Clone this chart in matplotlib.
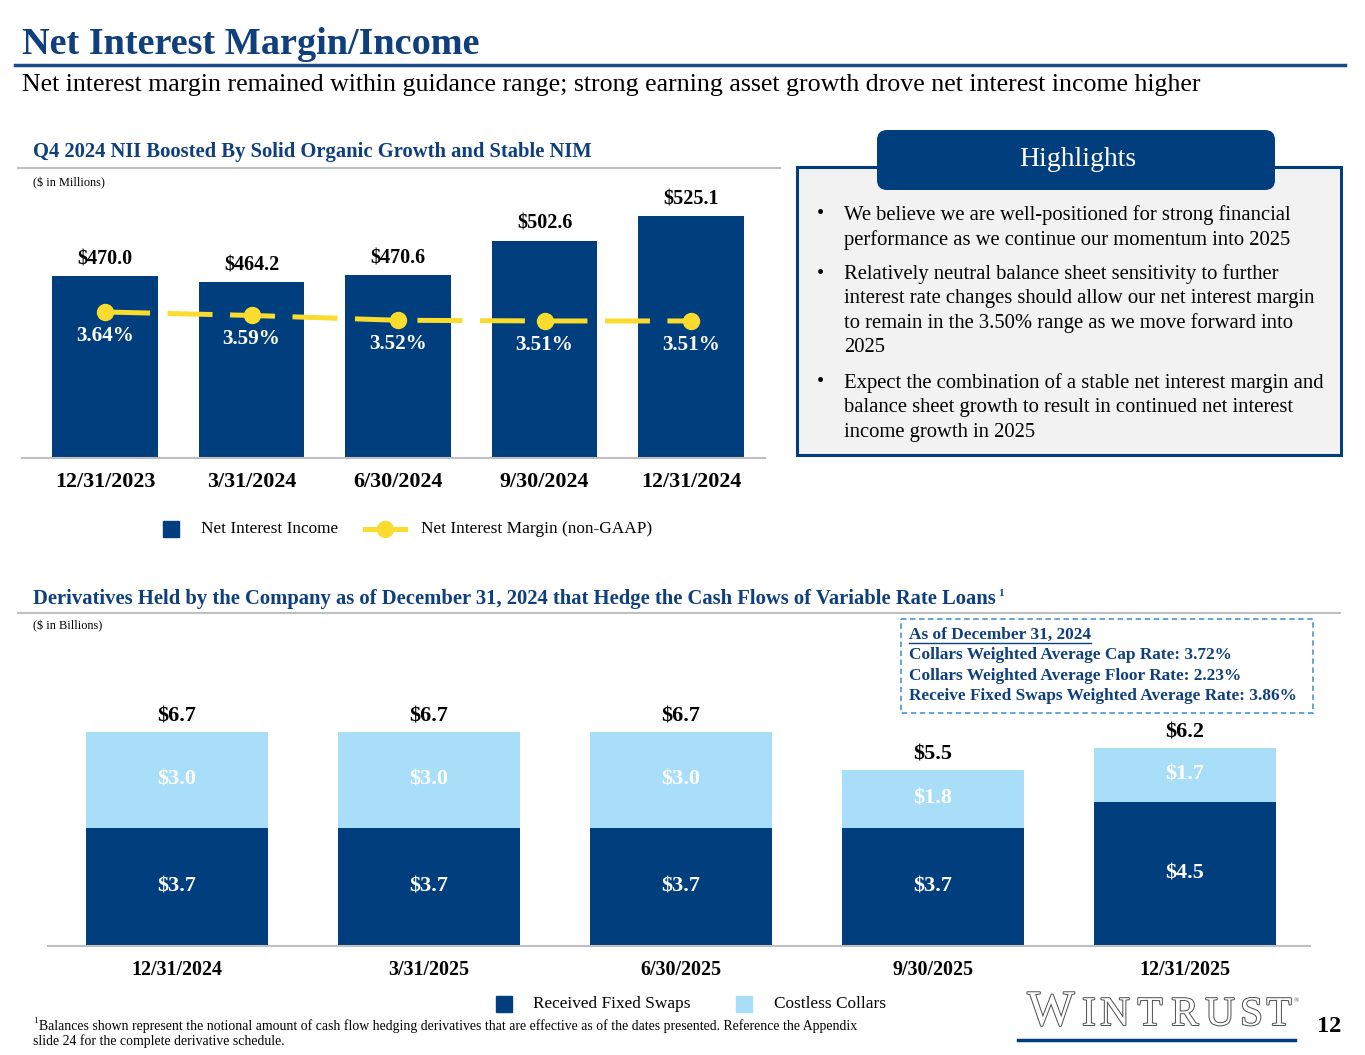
import matplotlib
matplotlib.use("Agg")
import matplotlib.pyplot as plt
import matplotlib.patheffects as pe
from matplotlib.patches import Rectangle, FancyBboxPatch

plt.rcParams['font.family'] = ['Liberation Serif', 'DejaVu Serif']
plt.rcParams['text.parse_math'] = False

W, H = 1365, 1055
NAVY = '#003E7E'
LIGHT = '#A9DEF9'
YELLOW = '#F9DC2E'
GRAY = '#BFBFBF'
TITLE = '#0F3F7C'

# Net interest income / margin by quarter
nii_dates = ['12/31/2023', '3/31/2024', '6/30/2024', '9/30/2024', '12/31/2024']
nii = [470.0, 464.2, 470.6, 502.6, 525.1]
nim = [3.64, 3.59, 3.52, 3.51, 3.51]

# Cash flow hedging derivatives ($ billions)
deriv_dates = ['12/31/2024', '3/31/2025', '6/30/2025', '9/30/2025', '12/31/2025']
fixed_swaps = [3.7, 3.7, 3.7, 3.7, 4.5]
collars = [3.0, 3.0, 3.0, 1.8, 1.7]
totals = [6.7, 6.7, 6.7, 5.5, 6.2]

highlights = [
    ["We believe we are well-positioned for strong financial",
     "performance as we continue our momentum into 2025"],
    ["Relatively neutral balance sheet sensitivity to further",
     "interest rate changes should allow our net interest margin",
     "to remain in the 3.50% range as we move forward into",
     "2025"],
    ["Expect the combination of a stable net interest margin and",
     "balance sheet growth to result in continued net interest",
     "income growth in 2025"],
]

hedge_notes = ["As of December 31, 2024",
               "Collars Weighted Average Cap Rate: 3.72%",
               "Collars Weighted Average Floor Rate: 2.23%",
               "Receive Fixed Swaps Weighted Average Rate: 3.86%"]

fig = plt.figure(figsize=(W / 100, H / 100), dpi=100)

# background axes in pixel coords for all the slide furniture
bg = fig.add_axes([0, 0, 1, 1])
bg.set_xlim(0, W)
bg.set_ylim(H, 0)
bg.axis('off')


def px_axes(left, top, right, bottom):
    return fig.add_axes([left / W, 1 - bottom / H, (right - left) / W, (bottom - top) / H])


def clean(ax):
    for s in ['top', 'right', 'left']:
        ax.spines[s].set_visible(False)
    ax.spines['bottom'].set_color(GRAY)
    ax.spines['bottom'].set_linewidth(1.5)
    ax.set_yticks([])
    ax.set_facecolor('none')


# title + subtitle
bg.text(22, 45, 'Net Interest Margin/Income', fontsize=27.5, fontweight='bold',
        color=TITLE, va='center')
bg.plot([15, 1345], [65, 65], color='#1A4B8C', lw=2.5)
bg.text(22, 85, 'Net interest margin remained within guidance range; strong earning asset '
        'growth drove net interest income higher', fontsize=18.6, va='center')

# ---- top chart ----
bg.text(33, 152, 'Q4 2024 NII Boosted By Solid Organic Growth and Stable NIM',
        fontsize=14.9, fontweight='bold', color=TITLE, va='center')
bg.plot([18, 780], [168, 168], color=GRAY, lw=1.5)
bg.text(33, 183, '($ in Millions)', fontsize=8.8, va='center')

ax = px_axes(22, 180, 765, 458)
x = list(range(len(nii)))
ax.bar(x, nii, width=0.72, color=NAVY)
ax.set_xlim(-0.567, 4.505)
ax.set_ylim(303, 558.3)
clean(ax)
ax.set_xticks(x)
ax.set_xticklabels(nii_dates, fontsize=15.8, fontweight='bold')
ax.tick_params(axis='x', length=0, pad=10)
for i, v in enumerate(nii):
    ax.annotate(f'${v:.1f}', (i, v), xytext=(0, 5), textcoords='offset points',
                ha='center', va='bottom', fontsize=14.5, fontweight='bold')

ax2 = ax.twinx()
ax2.set_ylim(1.524, 5.553)
ax2.set_axis_off()
ax2.plot(x, nim, color=YELLOW, lw=3.6, dashes=(9, 3.5), marker='o', ms=11.5)
for i, v in enumerate(nim):
    ax2.annotate(f'{v:.2f}%', (i, v), xytext=(0, -17), textcoords='offset points',
                 ha='center', va='center', color='white', fontsize=15.2, fontweight='bold')

# top legend
bg.add_patch(Rectangle((163, 521), 16, 16, color=NAVY))
bg.text(201, 529, 'Net Interest Income', fontsize=12.4, va='center')
bg.plot([365, 405], [529, 529], color=YELLOW, lw=3.6)
bg.plot([385], [529], 'o', color=YELLOW, ms=11.5)
bg.text(421, 529, 'Net Interest Margin (non-GAAP)', fontsize=12.4, va='center')

# ---- highlights box ----
bg.add_patch(Rectangle((797, 167), 544, 288, facecolor='#F2F2F2', edgecolor=NAVY, lw=2.2))
bg.add_patch(FancyBboxPatch((877, 130), 398, 60, boxstyle='round,pad=0,rounding_size=10',
                            facecolor=NAVY, edgecolor='none'))
bg.text(1078, 159, 'Highlights', color='white', fontsize=20, ha='center', va='center')
starts = [215, 274, 383]
for y0, lines in zip(starts, highlights):
    bg.text(817, y0, '\u2022', fontsize=14.9, va='center')
    for k, line in enumerate(lines):
        bg.text(844, y0 + k * 24.6, line, fontsize=14.9, va='center')

# ---- bottom chart ----
hdr = bg.text(33, 599, 'Derivatives Held by the Company as of December 31, 2024 that Hedge '
              'the Cash Flows of Variable Rate Loans', fontsize=14.9, fontweight='bold',
              color=TITLE, va='center')
bg.plot([18, 1340], [613, 613], color=GRAY, lw=1.5)
bg.text(33, 626, '($ in Billions)', fontsize=8.8, va='center')

bx = px_axes(48, 650, 1310, 946)
xb = list(range(len(fixed_swaps)))
bx.bar(xb, fixed_swaps, width=0.72, color=NAVY)
bx.bar(xb, collars, width=0.72, bottom=fixed_swaps, color=LIGHT)
bx.set_xlim(-0.512, 4.496)
bx.set_ylim(0, 9.25)
clean(bx)
bx.set_xticks(xb)
bx.set_xticklabels(deriv_dates, fontsize=14.4, fontweight='bold')
bx.tick_params(axis='x', length=0, pad=10)
for i in xb:
    bx.text(i, fixed_swaps[i] / 2, f'${fixed_swaps[i]:.1f}', ha='center', va='center',
            color='white', fontsize=16, fontweight='bold')
    bx.text(i, fixed_swaps[i] + collars[i] / 2, f'${collars[i]:.1f}', ha='center',
            va='center', color='white', fontsize=16, fontweight='bold')
    bx.annotate(f'${totals[i]:.1f}', (i, fixed_swaps[i] + collars[i]), xytext=(0, 4),
                textcoords='offset points', ha='center', va='bottom', fontsize=16,
                fontweight='bold')

# dashed notes box
bg.add_patch(Rectangle((901, 619), 412, 94, facecolor='white', edgecolor='#5B9BD5',
                       lw=1.3, ls=(0, (3, 2))))
note_texts = []
for k, line in enumerate(hedge_notes):
    note_texts.append(bg.text(909, 635 + k * 20.3, line, fontsize=12.4, fontweight='bold',
                              color=TITLE, va='center'))

# bottom legend
bg.add_patch(Rectangle((496, 996), 16, 16, color=NAVY))
bg.text(533, 1004, 'Received Fixed Swaps', fontsize=12.4, va='center')
bg.add_patch(Rectangle((736, 996), 16, 16, color=LIGHT))
bg.text(774, 1004, 'Costless Collars', fontsize=12.4, va='center')

# footnote
bg.text(33, 1021, '1', fontsize=6.5, va='center')
bg.text(39, 1026, 'Balances shown represent the notional amount of cash flow hedging derivatives '
        'that are effective as of the dates presented. Reference the Appendix',
        fontsize=9.9, va='center')
bg.text(33, 1041, 'slide 24 for the complete derivative schedule.', fontsize=9.9, va='center')

# logo
stroke = [pe.withStroke(linewidth=1.4, foreground='#4D4D4D')]
bg.text(1051, 1025, 'W', fontsize=36, color='white', ha='center', va='baseline',
        path_effects=stroke)
for ch, cx in zip('INTRUST', [1089, 1115, 1150, 1185, 1220, 1251.5, 1279]):
    bg.text(cx, 1025, ch, fontsize=29.5, color='white', ha='center', va='baseline',
            path_effects=stroke)
bg.text(1296, 1001, '\u00ae', fontsize=5, color='#4D4D4D', ha='center', va='center')
bg.plot([1018, 1295], [1040, 1040], color=NAVY, lw=2.5)
bg.text(1329, 1027, '12', fontsize=17.5, fontweight='bold', ha='center', va='center')

# superscript + underline need text extents
fig.canvas.draw()
inv = bg.transData.inverted()
bb = inv.transform(hdr.get_window_extent())
bg.text(max(bb[:, 0]) + 2, 593, '1', fontsize=8, fontweight='bold', color=TITLE, va='center')
bb = inv.transform(note_texts[0].get_window_extent())
bg.plot([909, max(bb[:, 0])], [643, 643], color=TITLE, lw=1)

fig.savefig('out.png', dpi=100)
